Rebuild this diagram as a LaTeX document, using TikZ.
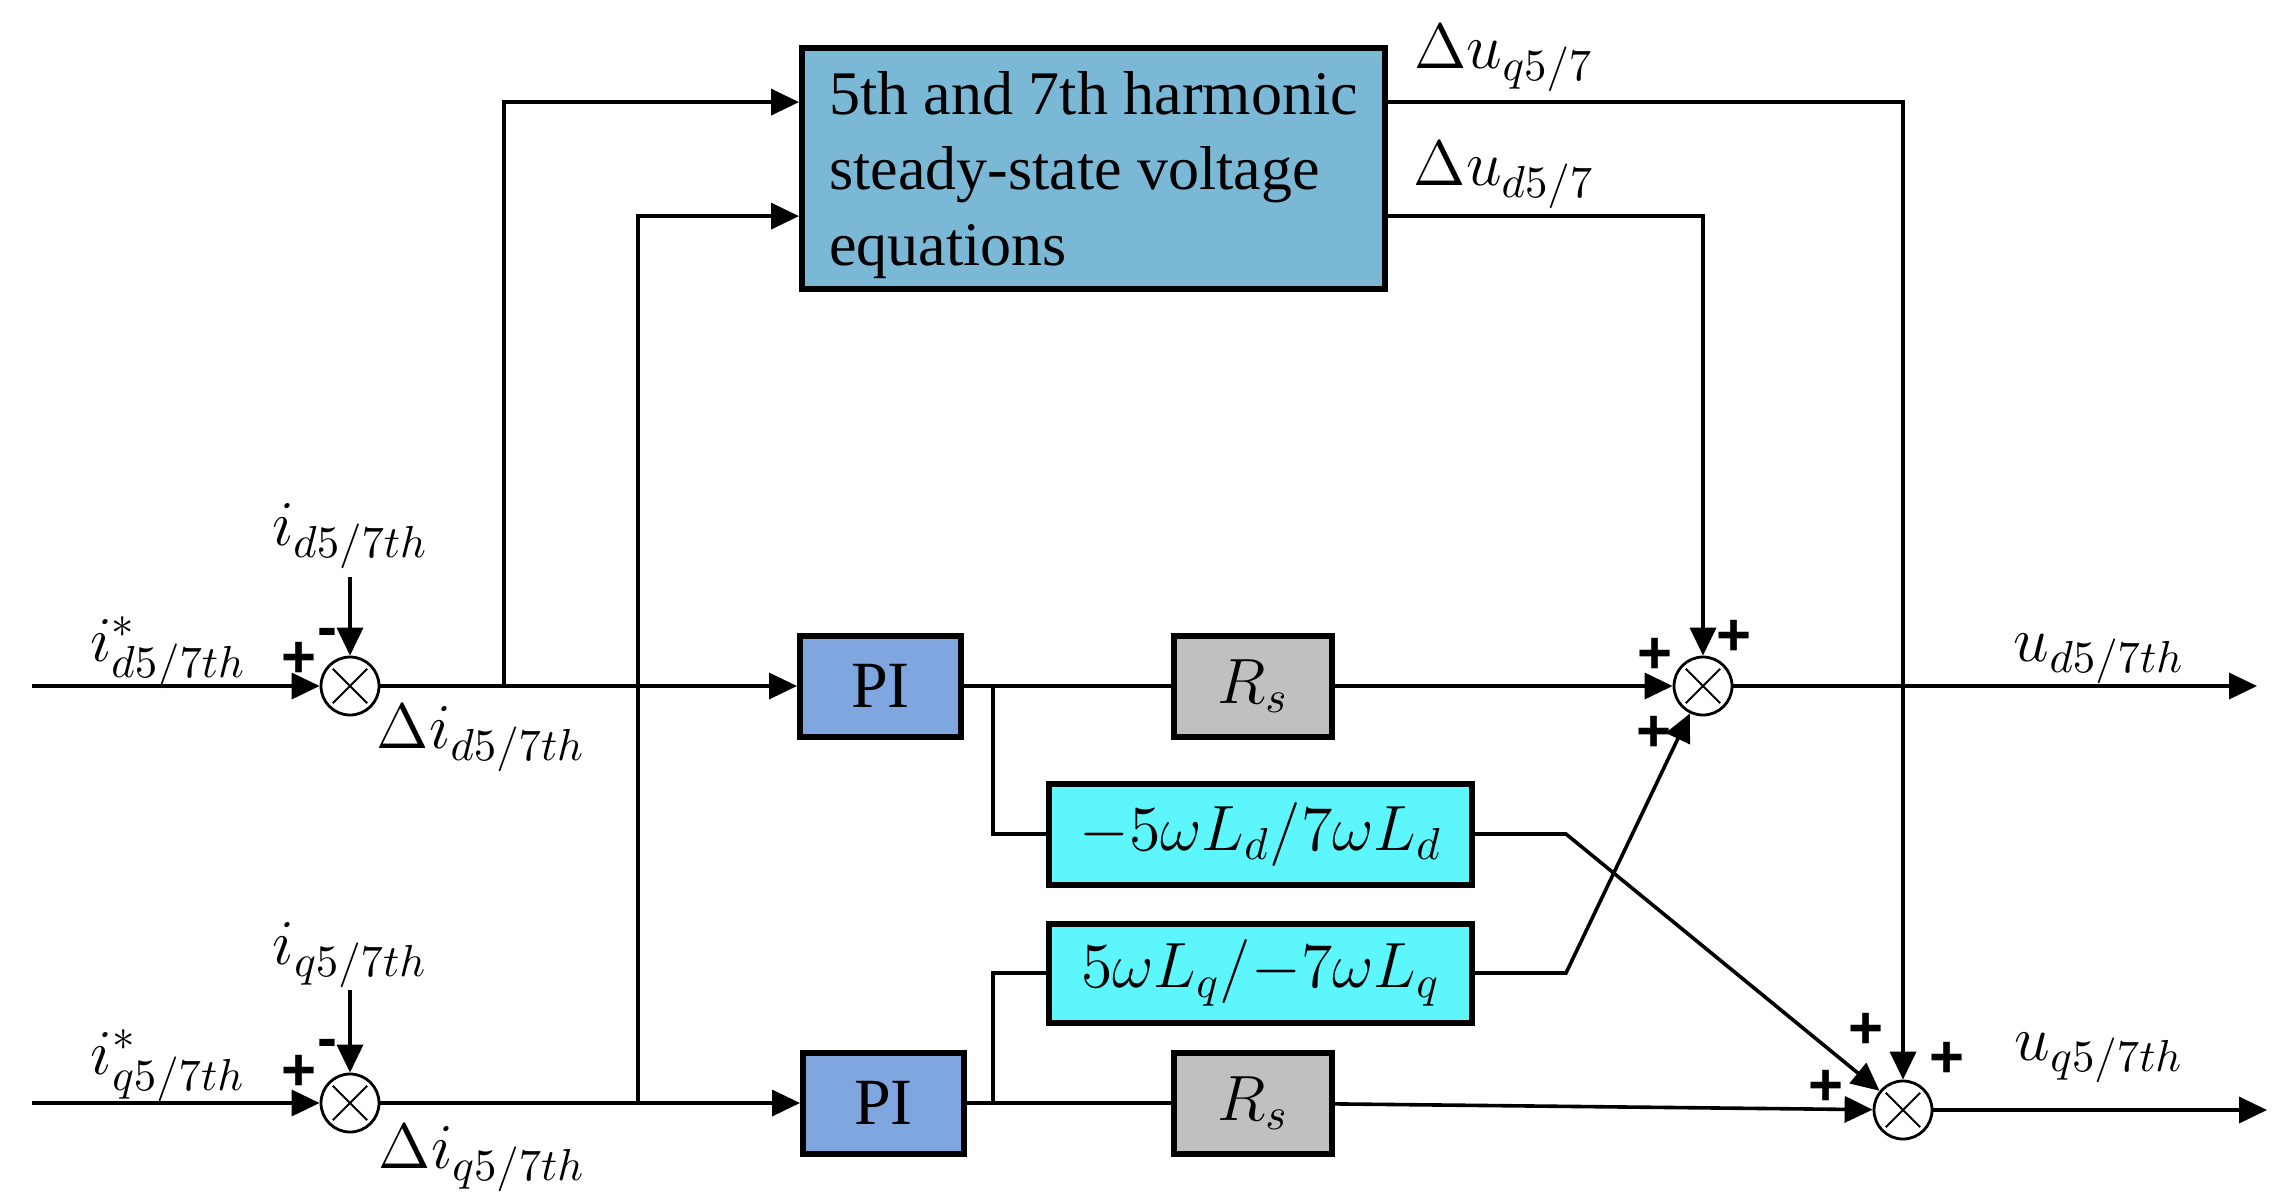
\RequirePackage{fix-cm}
\documentclass[tikz,border=0pt]{standalone}
\usepackage{fontspec}
\setmainfont{Liberation Serif}
\newfontfamily\signfont{Liberation Sans}
\usetikzlibrary{arrows.meta}
\definecolor{bigc}{RGB}{122,184,214}
\definecolor{pic}{RGB}{128,166,224}
\definecolor{rsc}{RGB}{192,192,192}
\definecolor{cyc}{RGB}{92,246,252}
\begin{document}
\begin{tikzpicture}[x=0.25pt,y=-0.25pt,
  line width=0.9pt,
  >={Triangle[length=7pt,width=6.5pt]},
  blk/.style={draw,line width=1.5pt,inner sep=0pt,minimum height=25.25pt},
  sumnode/.style={circle,draw,line width=0.7pt,minimum size=14.5pt,inner sep=0pt,
    path picture={\draw[line width=0.5pt] (path picture bounding box.center) ++(-4.3pt,-4.3pt) -- ++(8.6pt,8.6pt)
      (path picture bounding box.center) ++(-4.3pt,4.3pt) -- ++(8.6pt,-8.6pt);}},
  lbl/.style={inner sep=0pt,font=\fontsize{16}{19}\selectfont},
  sgn/.style={inner sep=0pt,font=\signfont\bfseries\fontsize{15}{15}\selectfont},
]
\useasboundingbox (0,0) rectangle (2290,1200);

% blocks
\node[blk,fill=bigc,minimum width=145.75pt,minimum height=60.25pt,align=left,
  font=\fontsize{15.5}{18.8}\selectfont] (big) at (1093.5,168.5)
  {\rule{0pt}{14pt}5th and 7th harmonic\\steady-state voltage\\equations};
\node[blk,fill=pic,minimum width=40.25pt,font=\fontsize{16.5}{19}\selectfont] (pi1) at (880.5,686) {PI};
\node[blk,fill=pic,minimum width=40.25pt,font=\fontsize{16.5}{19}\selectfont] (pi2) at (883.5,1103) {PI};
\node[blk,fill=rsc,minimum width=39.5pt,font=\fontsize{16}{19}\selectfont] (rs1) at (1253,686) {$R_s$};
\node[blk,fill=rsc,minimum width=39.5pt,font=\fontsize{16}{19}\selectfont] (rs2) at (1253,1103) {$R_s$};
\node[blk,fill=cyc,minimum width=105.75pt,font=\fontsize{16}{19}\selectfont] (ld) at (1260.5,834) {$-5\omega L_d/7\omega L_d$};
\node[blk,fill=cyc,minimum width=105.75pt,minimum height=24.75pt,font=\fontsize{16}{19}\selectfont] (lq) at (1260.5,973) {$5\omega L_q/{-7}\omega L_q$};

% summing junctions
\node[sumnode] (s1) at (350,686) {};
\node[sumnode] (s2) at (350,1103) {};
\node[sumnode] (s3) at (1703,686) {};
\node[sumnode] (s4) at (1903,1110) {};

% helper coordinates
\coordinate (in1) at (32,686);
\coordinate (in2) at (32,1103);
\coordinate (t1) at (350,577);
\coordinate (t2) at (350,990);
\coordinate (o1) at (2257,686);
\coordinate (o2) at (2267,1110);
\coordinate (j1) at (504,686);
\coordinate (j2) at (638,1103);
\coordinate (b1) at (993,686);
\coordinate (b2) at (993,1103);
\coordinate (k1) at (1566,834);
\coordinate (k2) at (1566,973);

% connectors, d row
\draw[->] (in1) -- (s1);
\draw[->] (t1) -- (s1);
\draw[->] (s1) -- (pi1);
\draw (pi1) -- (rs1);
\draw[->] (rs1) -- (s3);
\draw[->] (s3) -- (o1);
% q row
\draw[->] (in2) -- (s2);
\draw[->] (t2) -- (s2);
\draw[->] (s2) -- (pi2);
\draw (pi2) -- (rs2);
\draw[->] (rs2) -- (s4);
\draw[->] (s4) -- (o2);
% to harmonic block
\draw[->] (j1) |- ([yshift=16.6pt]big.west);
\draw[->] (j2) |- ([yshift=-11.9pt]big.west);
% from harmonic block
\draw[->] ([yshift=16.6pt]big.east) -| (s4);
\draw[->] ([yshift=-11.9pt]big.east) -| (s3);
% cross coupling
\draw (b1) |- (ld);
\draw (b2) |- (lq);
\draw[->] (ld) -- (k1) -- (s4);
\draw[->] (lq) -- (k2) -- (s3);

% labels
\node[lbl] (l1) at (168,653) {$i^{*}_{d5/7th}$};
\node[lbl] (l2) at (350,536) {$i_{d5/7th}$};
\node[lbl] (l3) at (481,738) {$\Delta i_{d5/7th}$};
\node[lbl] (l4) at (168,1066) {$i^{*}_{q5/7th}$};
\node[lbl] (l5) at (350,955) {$i_{q5/7th}$};
\node[lbl] (l6) at (482,1158) {$\Delta i_{q5/7th}$};
\node[lbl] (l7) at (1504,58) {$\Delta u_{q5/7}$};
\node[lbl] (l8) at (1504,175) {$\Delta u_{d5/7}$};
\node[lbl] (l9) at (2099,659) {$u_{d5/7th}$};
\node[lbl] (l10) at (2099,1058) {$u_{q5/7th}$};

% signs
\node[sgn] (p1) at (299,660) {+};
\node[sgn] (m1) at (327,638) {-};
\node[sgn] (p2) at (299,1073) {+};
\node[sgn] (m2) at (327,1049) {-};
\node[sgn] (p3) at (1655,656) {+};
\node[sgn] (p4) at (1734,638) {+};
\node[sgn] (p5) at (1654,734) {+};
\node[sgn] (p6) at (1826,1088) {+};
\node[sgn] (p7) at (1866,1031) {+};
\node[sgn] (p8) at (1947,1060) {+};
\end{tikzpicture}
\end{document}
